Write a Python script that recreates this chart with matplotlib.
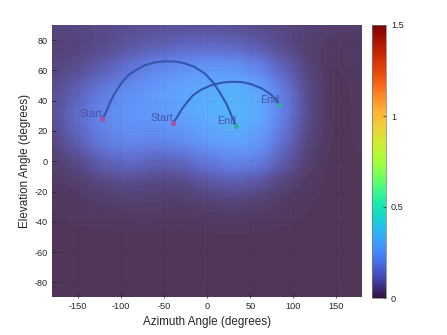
import numpy as np
import matplotlib
matplotlib.use("Agg")
import matplotlib.pyplot as plt

plt.rcParams['font.family'] = ['Liberation Sans', 'DejaVu Sans']
plt.rcParams['axes.unicode_minus'] = False

# grid of the field (rows: elevation 90 -> -90, cols: azimuth -180 -> 180)
az_grid = [-180, -150, -120, -90, -60, -30, 0, 30, 60, 90, 120, 150, 180]
el_grid = [90, 75, 60, 45, 30, 15, 0, -15, -30, -45, -60, -75, -90]
field = [
    [0.04, 0.045, 0.05, 0.055, 0.06, 0.06, 0.06, 0.055, 0.05, 0.04, 0.03, 0.02, 0.02],
    [0.03, 0.035, 0.05, 0.08, 0.10, 0.12, 0.13, 0.12, 0.09, 0.05, 0.02, 0.01, 0.015],
    [0.04, 0.06, 0.10, 0.16, 0.21, 0.24, 0.26, 0.26, 0.21, 0.11, 0.03, 0.0, 0.02],
    [0.05, 0.11, 0.18, 0.23, 0.26, 0.29, 0.31, 0.33, 0.30, 0.17, 0.04, 0.0, 0.01],
    [0.06, 0.14, 0.21, 0.25, 0.25, 0.28, 0.31, 0.33, 0.31, 0.18, 0.04, 0.0, 0.01],
    [0.04, 0.11, 0.19, 0.22, 0.21, 0.23, 0.27, 0.30, 0.27, 0.14, 0.03, 0.0, 0.01],
    [0.02, 0.05, 0.11, 0.14, 0.11, 0.12, 0.17, 0.21, 0.19, 0.09, 0.02, 0.0, 0.005],
    [0.01, 0.02, 0.04, 0.05, 0.04, 0.04, 0.07, 0.09, 0.07, 0.03, 0.01, 0.0, 0.005],
    [0.005, 0.01, 0.015, 0.02, 0.02, 0.015, 0.02, 0.025, 0.02, 0.01, 0.005, 0.005, 0.005],
    [0.005] * 13,
    [0.005] * 13,
    [0.005] * 13,
    [0.005] * 13,
]

# path 1 (start -> end)
path1_az = [-121.9, -118.8, -113.0, -107.2, -99.4, -91.8, -82.0, -72.4, -60.7, -49.1,
            -37.5, -25.9, -14.3, -2.7, 7.0, 14.7, 22.5, 28.3, 33.3]
path1_el = [28.1, 31.0, 38.7, 45.3, 51.9, 56.9, 60.6, 63.5, 65.3, 66.1,
            65.9, 64.6, 62.2, 57.8, 51.9, 45.3, 37.6, 29.9, 23.3]
# path 2 (start -> end)
path2_az = [-39.5, -35.5, -29.7, -23.9, -16.3, -6.5, 5.1, 16.7, 28.3, 40.0,
            51.6, 63.2, 72.9, 80.6, 83.3]
path2_el = [25.5, 28.8, 34.3, 38.7, 43.7, 47.5, 50.3, 51.9, 52.5, 52.3,
            50.8, 48.1, 44.6, 40.2, 37.1]

xticks = [-150, -100, -50, 0, 50, 100, 150]
yticks = [-80, -60, -40, -20, 0, 20, 40, 60, 80]
cticks = [0, 0.5, 1, 1.5]

fig = plt.figure(figsize=(4.47, 3.35), dpi=100)
ax = fig.add_axes([52.3 / 447, (335 - 297.5) / 335, 310 / 447, 272.5 / 335])
cax = fig.add_axes([372 / 447, (335 - 298) / 335, 14 / 447, 273 / 335])

data = np.array(field)
step_az = az_grid[1] - az_grid[0]
step_el = el_grid[0] - el_grid[1]
im = ax.imshow(data, cmap='turbo', vmin=0, vmax=1.5, alpha=0.85,
               interpolation='gaussian', aspect='auto',
               extent=[az_grid[0] - step_az / 2, az_grid[-1] + step_az / 2,
                       el_grid[-1] - step_el / 2, el_grid[0] + step_el / 2],
               zorder=1)
ax.set_xlim(-180, 180)
ax.set_ylim(-90, 90)

line_col = '#3457ae'
ax.plot(path1_az, path1_el, color=line_col, lw=1.5, zorder=3, solid_capstyle='round')
ax.plot(path2_az, path2_el, color=line_col, lw=1.5, zorder=3, solid_capstyle='round')
start_col = '#a8519c'
end_col = '#35ad9c'
txt_col = '#4a55a8'
for a, e in [(path1_az[0], path1_el[0]), (path2_az[0], path2_el[0])]:
    ax.plot(a, e, 'o', color=start_col, ms=3.8, mew=0, zorder=4)
    ax.text(a, e, 'Start', ha='right', va='bottom', fontsize=7.7, color=txt_col, zorder=5)
for a, e in [(path1_az[-1], path1_el[-1]), (path2_az[-1], path2_el[-1])]:
    ax.plot(a, e, 'o', color=end_col, ms=3.8, mew=0, zorder=4)
    ax.text(a, e, 'End', ha='right', va='bottom', fontsize=7.7, color=txt_col, zorder=5)

ax.set_xticks(xticks)
ax.set_yticks(yticks)
ax.grid(True, color='#000000', alpha=0.04, lw=0.6, zorder=2)
ax.tick_params(direction='in', length=3, labelsize=6.6, colors='#262626', width=0.5)
for s in ax.spines.values():
    s.set_visible(False)
ax.set_xlabel('Azimuth Angle (degrees)', fontsize=8.4, color='#262626', labelpad=3)
ax.set_ylabel('Elevation Angle (degrees)', fontsize=8.4, color='#262626', labelpad=2)

cb = fig.colorbar(plt.cm.ScalarMappable(norm=plt.Normalize(0, 1.5), cmap='turbo'), cax=cax)
cb.set_ticks(cticks)
cb.set_ticklabels(['0', '0.5', '1', '1.5'])
cb.ax.tick_params(direction='in', length=2, labelsize=6.6, colors='#262626', width=0.5)
cb.outline.set_linewidth(0.5)
cb.outline.set_edgecolor('#777777')

fig.savefig('out.png', dpi=100)
